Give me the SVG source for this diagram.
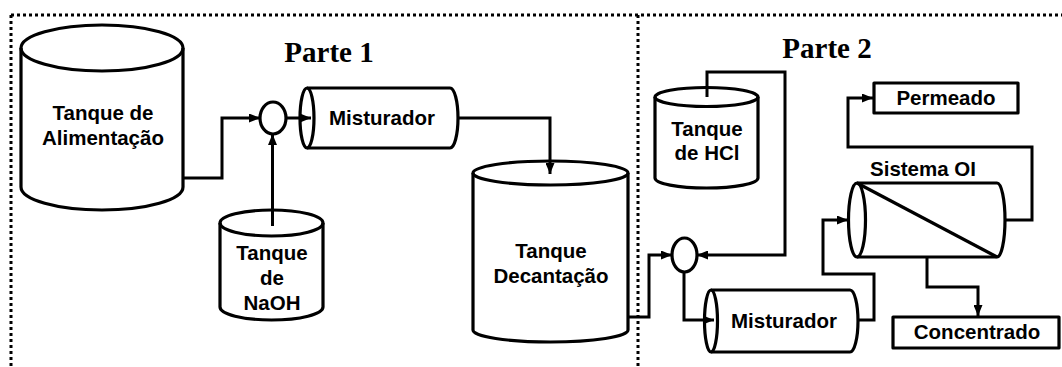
<svg xmlns="http://www.w3.org/2000/svg" width="1062" height="367" viewBox="0 0 1062 367">
<defs>
<style>
.shape{fill:none;stroke:#000;stroke-width:3.2;stroke-linejoin:round}
.fillw{fill:#fff;stroke:#000;stroke-width:3.2}
.conn{fill:none;stroke:#000;stroke-width:3;stroke-linejoin:miter}
.border{fill:none;stroke:#000;stroke-width:3;stroke-dasharray:3 3}
.lbl{font-family:"Liberation Sans",Arial,sans-serif;font-weight:bold;font-size:20.5px;text-anchor:middle;fill:#000}
.title{font-family:"Liberation Serif","Times New Roman",serif;font-weight:bold;font-size:29px;text-anchor:middle;fill:#000}
</style>
<marker id="arr" markerWidth="11" markerHeight="9" refX="11" refY="4.5" orient="auto" markerUnits="userSpaceOnUse">
<path d="M0,0 L11,4.5 L0,9 z" fill="#000"/>
</marker>
</defs>
<rect width="1062" height="367" fill="#fff"/>
<g id="borders">
<path class="border" d="M11,15 H1062 M11,15 V367 M638,15 V367"/>
</g>
<g id="titles">
<text class="title" x="329" y="62">Parte 1</text>
<text class="title" x="827" y="58">Parte 2</text>
</g>
<g id="tanque-alimentacao">
<ellipse class="shape" cx="102" cy="48" rx="81" ry="23"/>
<path class="shape" d="M21,48 V187 A81,23 0 0 0 183,187 V48"/>
<text class="lbl" x="103" y="120">Tanque de</text>
<text class="lbl" x="103" y="145">Alimentação</text>
</g>
<g id="juncao-1">
<ellipse class="shape" cx="273" cy="118" rx="13" ry="16"/>
</g>
<g id="tanque-naoh">
<ellipse class="shape" cx="271.5" cy="223" rx="51.5" ry="13"/>
<path class="shape" d="M220,223 V307 A51.5,13 0 0 0 323,307 V223"/>
<text class="lbl" x="272" y="260">Tanque</text>
<text class="lbl" x="272" y="285">de</text>
<text class="lbl" x="272" y="310">NaOH</text>
</g>
<g id="misturador-1">
<path class="shape" d="M307,88 H450 A8,30 0 0 1 450,148 H307"/>
<ellipse class="shape" cx="307" cy="118" rx="7" ry="30"/>
<text class="lbl" x="382" y="125">Misturador</text>
</g>
<g id="tanque-decantacao">
<ellipse class="shape" cx="550.5" cy="173" rx="77.5" ry="12"/>
<path class="shape" d="M473,173 V330 A77.5,12 0 0 0 628,330 V173"/>
<text class="lbl" x="551" y="258">Tanque</text>
<text class="lbl" x="551" y="283">Decantação</text>
</g>
<g id="tanque-hcl">
<ellipse class="shape" cx="706.5" cy="97" rx="51.5" ry="9.5"/>
<path class="shape" d="M655,97 V178 A51.5,10 0 0 0 758,178 V97"/>
<text class="lbl" x="707" y="136">Tanque</text>
<text class="lbl" x="707" y="160">de HCl</text>
</g>
<g id="juncao-2">
<ellipse class="shape" cx="684.5" cy="255" rx="12.5" ry="17"/>
</g>
<g id="misturador-2">
<path class="shape" d="M711,290 H850 A8,31 0 0 1 850,352 H711"/>
<ellipse class="shape" cx="711" cy="321" rx="6.5" ry="31"/>
<text class="lbl" x="784" y="328">Misturador</text>
</g>
<g id="sistema-oi">
<path class="shape" d="M857,183 H997 A8,37 0 0 1 997,257 H857"/>
<ellipse class="shape" cx="857" cy="220" rx="8.5" ry="37"/>
<path class="shape" d="M857,183 L997,257"/>
<text class="lbl" x="923" y="176">Sistema OI</text>
</g>
<g id="permeado">
<rect class="shape" x="874" y="83" width="144" height="30"/>
<text class="lbl" x="946" y="105">Permeado</text>
</g>
<g id="concentrado">
<rect class="shape" x="893" y="317" width="166" height="31"/>
<text class="lbl" x="977" y="339">Concentrado</text>
</g>
<g id="connectors">
<path class="conn" d="M183,178 H222 V118 H260" marker-end="url(#arr)"/>
<path class="conn" d="M272.5,226 V134" marker-end="url(#arr)"/>
<path class="conn" d="M286,118 H311" marker-end="url(#arr)"/>
<path class="conn" d="M458,118 H550 V174" marker-end="url(#arr)"/>
<path class="conn" d="M628,317 H649 V255 H672" marker-end="url(#arr)"/>
<path class="conn" d="M707,97 V72 H785 V255 H697" marker-end="url(#arr)"/>
<path class="conn" d="M684,272 V320 H714" marker-end="url(#arr)"/>
<path class="conn" d="M858,320 H874 V274 H823 V220 H848" marker-end="url(#arr)"/>
<path class="conn" d="M1005,220 H1032 V147 H848 V98 H873" marker-end="url(#arr)"/>
<path class="conn" d="M927,257 V287 H978 V316" marker-end="url(#arr)"/>
</g>
</svg>
